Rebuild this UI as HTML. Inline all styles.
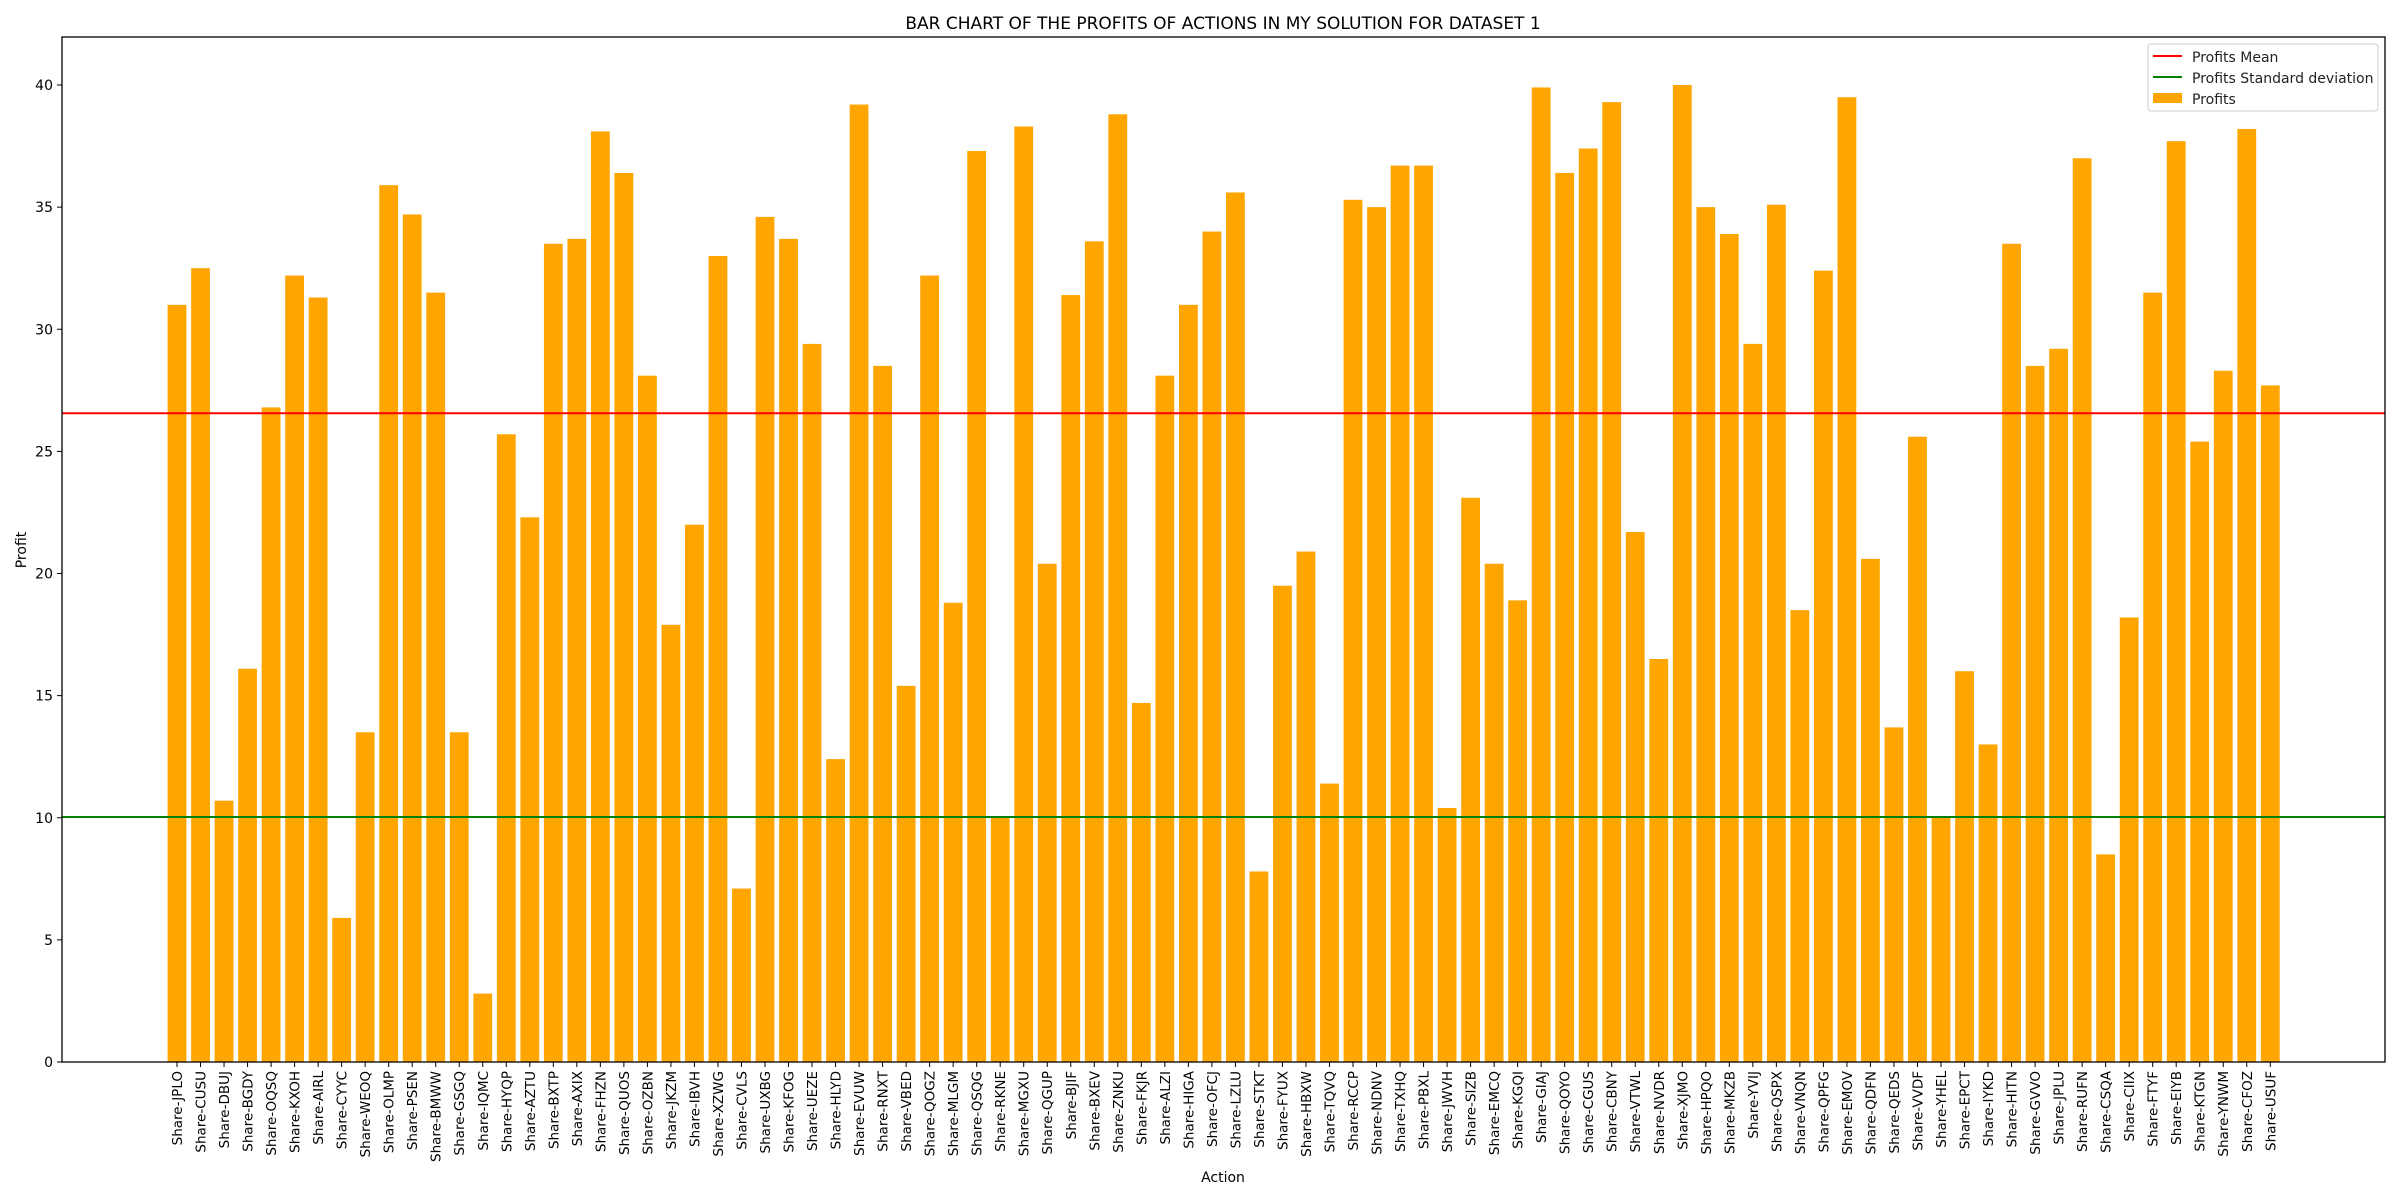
<!DOCTYPE html>
<html><head><meta charset="utf-8"><style>
html,body{margin:0;padding:0;background:#fff;}
svg{display:block;font-family:"DejaVu Sans","Liberation Sans",sans-serif;}
</style></head><body>
<svg id="c" width="2400" height="1200" xmlns="http://www.w3.org/2000/svg">
<rect width="2400" height="1200" fill="#fff"/>
<g id="bars"></g>
<text x="1223" y="29" font-size="17" text-anchor="middle" fill="#000">BAR CHART OF THE PROFITS OF ACTIONS IN MY SOLUTION FOR DATASET 1</text>
<text x="1223" y="1182" font-size="14" text-anchor="middle" fill="#000">Action</text>
<text transform="translate(26,550) rotate(-90)" font-size="14" text-anchor="middle" fill="#000">Profit</text>
<g id="legend">
<rect x="2148" y="44" width="230" height="67" rx="3" fill="#fff" fill-opacity="0.8" stroke="#ccc" stroke-width="1"/>
<line x1="2153" y1="56" x2="2182" y2="56" stroke="red" stroke-width="2"/>
<text x="2192" y="62" font-size="14" fill="#222">Profits Mean</text>
<line x1="2153" y1="77" x2="2182" y2="77" stroke="green" stroke-width="2"/>
<text x="2192" y="83" font-size="14" fill="#222">Profits Standard deviation</text>
<rect x="2153" y="93" width="29" height="10" fill="orange"/>
<text x="2192" y="104" font-size="14" fill="#222">Profits</text>
</g>
</svg>
<script>
var names="JPLO CUSU DBUJ BGDY OQSQ KXOH AIRL CYYC WEOQ OLMP PSEN BMWW GSGQ IQMC HYQP AZTU BXTP AXIX FHZN QUOS OZBN JKZM IBVH XZWG CVLS UXBG KFOG UEZE HLYD EVUW RNXT VBED QOGZ MLGM QSQG RKNE MGXU QGUP BJIF BXEV ZNKU FKJR ALZI HIGA OFCJ LZLU STKT FYUX HBXW TQVQ RCCP NDNV TXHQ PBXL JWVH SIZB EMCQ KGQI GIAJ QOYO CGUS CBNY VTWL NVDR XJMO HPQO MKZB YVIJ QSPX VNQN QPFG EMOV QDFN QEDS VVDF YHEL EPCT IYKD HITN GVVO JPLU RUFN CSQA CIIX FTYF EIYB KTGN YNWM CFOZ USUF".split(" ");
var v=[31.0,32.5,10.7,16.1,26.8,32.2,31.3,5.9,13.5,35.9,34.7,31.5,13.5,2.8,25.7,22.3,33.5,33.7,38.1,36.4,28.1,17.9,22.0,33.0,7.1,34.6,33.7,29.4,12.4,39.2,28.5,15.4,32.2,18.8,37.3,10.0,38.3,20.4,31.4,33.6,38.8,14.7,28.1,31.0,34.0,35.6,7.8,19.5,20.9,11.4,35.3,35.0,36.7,36.7,10.4,23.1,20.4,18.9,39.9,36.4,37.4,39.3,21.7,16.5,40.0,35.0,33.9,29.4,35.1,18.5,32.4,39.5,20.6,13.7,25.6,10.0,16.0,13.0,33.5,28.5,29.2,37.0,8.5,18.2,31.5,37.7,25.4,28.3,38.2,27.7];
var L=62,R=2385,T=37,B=1062,u=(B-85)/40,s=23.52,x0=177,w=18.8;
function Y(d){return B-d*u;}
var h="";
for(var i=0;i<v.length;i++){var cx=x0+i*s;
h+='<rect x="'+(cx-w/2)+'" y="'+Y(v[i])+'" width="'+w+'" height="'+(v[i]*u)+'" fill="orange"/>';
h+='<line x1="'+cx+'" y1="'+B+'" x2="'+cx+'" y2="'+(B+5)+'" stroke="#000" stroke-width="1"/>';
h+='<text transform="translate('+(cx+5)+','+(B+9)+') rotate(-90)" font-size="13.5" text-anchor="end" fill="#000">Share-'+names[i]+'</text>';}
for(var k=0;k<=40;k+=5){var y=Y(k);
h+='<line x1="'+(L-5)+'" y1="'+y+'" x2="'+L+'" y2="'+y+'" stroke="#000"/>';
h+='<text x="'+(L-9)+'" y="'+(y+5)+'" font-size="14" text-anchor="end" fill="#000">'+k+'</text>';}
h+='<line x1="'+L+'" y1="'+Y(26.56)+'" x2="'+R+'" y2="'+Y(26.56)+'" stroke="red" stroke-width="2"/>';
h+='<line x1="'+L+'" y1="'+Y(10.03)+'" x2="'+R+'" y2="'+Y(10.03)+'" stroke="green" stroke-width="2"/>';
h+='<rect x="'+L+'" y="'+T+'" width="'+(R-L)+'" height="'+(B-T)+'" fill="none" stroke="#000" stroke-width="1.3"/>';
document.getElementById("bars").innerHTML=h;
</script>
</body></html>
